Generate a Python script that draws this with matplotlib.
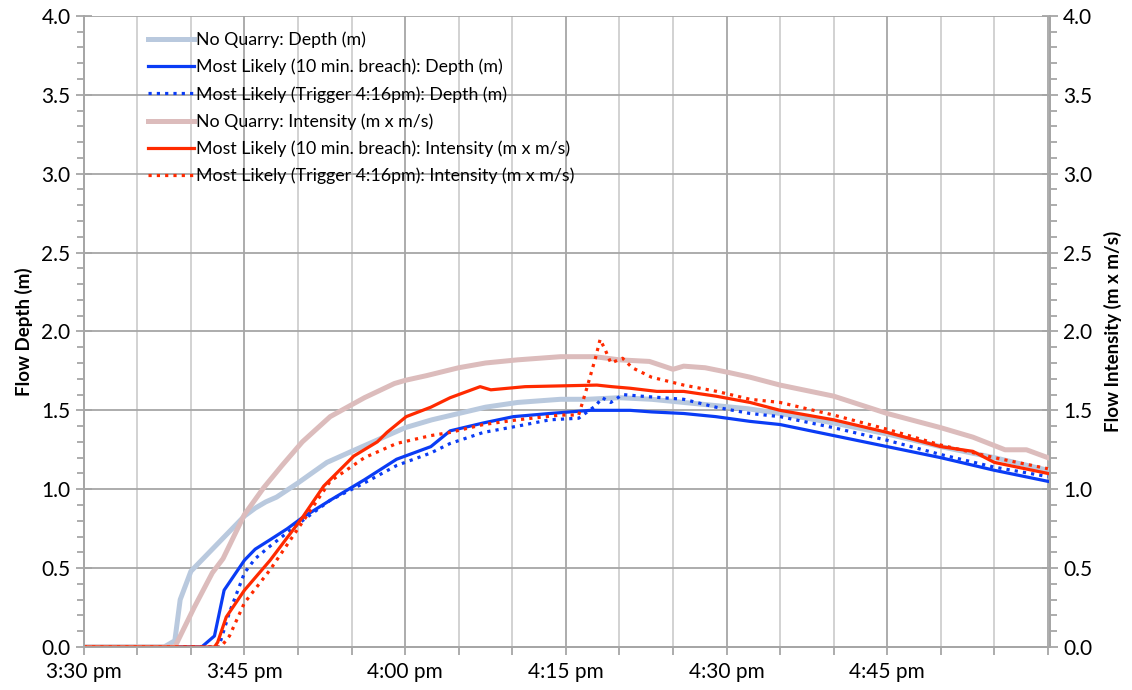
import matplotlib
matplotlib.use("Agg")
import matplotlib.pyplot as plt
from matplotlib.ticker import MultipleLocator, FormatStrFormatter

plt.rcParams['font.family'] = ['Lato', 'DejaVu Sans']

# minutes after 3:30 pm
tick_minutes = [0, 15, 30, 45, 60, 75]
tick_labels = ['3:30 pm', '3:45 pm', '4:00 pm', '4:15 pm', '4:30 pm', '4:45 pm']

# No Quarry: Depth (m)
nq_depth_t = [0, 7.5, 8.5, 9, 10, 11, 12, 13, 14, 15, 16, 17, 18, 20, 22.7, 25, 27, 30,
              32.5, 35, 37.5, 40.5, 44.5, 47, 50, 53, 56, 59, 62, 65, 70, 75, 80, 85, 90]
nq_depth = [0, 0, 0.04, 0.30, 0.48, 0.55, 0.62, 0.69, 0.76, 0.83, 0.88, 0.92, 0.95, 1.04, 1.17,
            1.24, 1.30, 1.39, 1.44, 1.48, 1.52, 1.55, 1.57, 1.57, 1.58, 1.57, 1.55, 1.53, 1.51,
            1.48, 1.42, 1.35, 1.27, 1.20, 1.12]

# Most Likely (10 min. breach): Depth (m)
ml_depth_t = [0, 11, 12.2, 13.1, 14.2, 15, 16, 17.4, 19, 20.4, 23, 26.2, 29.2, 32.4, 34.2,
              37.3, 40.1, 43.5, 47.3, 51, 53, 56, 59, 62.2, 65, 70, 75, 80, 85, 90]
ml_depth = [0, 0, 0.07, 0.36, 0.47, 0.55, 0.62, 0.68, 0.75, 0.82, 0.93, 1.06, 1.19, 1.27, 1.37,
            1.42, 1.46, 1.48, 1.50, 1.50, 1.49, 1.48, 1.46, 1.43, 1.41, 1.34, 1.27, 1.20, 1.12, 1.05]

# Most Likely (Trigger 4:16pm): Depth (m)
trig_depth_t = [0, 12.6, 13.6, 14.5, 15, 16, 17.4, 20.4, 23, 26.2, 29.2, 32.4, 34.2, 37.3, 40.5,
                43.5, 46.2, 47.8, 48.4, 49.2, 50.3, 52, 56, 59, 62.2, 65, 70, 75, 80, 85, 90]
trig_depth = [0, 0, 0.22, 0.38, 0.47, 0.56, 0.64, 0.80, 0.93, 1.04, 1.15, 1.23, 1.29, 1.36, 1.40,
              1.44, 1.45, 1.53, 1.58, 1.55, 1.60, 1.59, 1.57, 1.52, 1.48, 1.46, 1.39, 1.31, 1.22,
              1.14, 1.08]

# No Quarry: Intensity (m x m/s)
nq_int_t = [0, 8.5, 10.3, 12, 13, 15, 16.8, 18.5, 20.4, 23, 26.2, 29, 30, 32, 35, 37.5, 40.5,
            44.5, 47.7, 50, 52.8, 55, 56, 58, 60.2, 62.2, 65, 70, 75, 80, 83, 86, 88, 90]
nq_int = [0, 0, 0.25, 0.47, 0.56, 0.84, 1.01, 1.15, 1.30, 1.46, 1.58, 1.67, 1.69, 1.72, 1.77,
          1.80, 1.82, 1.84, 1.84, 1.82, 1.81, 1.76, 1.78, 1.77, 1.74, 1.71, 1.66, 1.59, 1.48,
          1.39, 1.33, 1.25, 1.25, 1.20]

# Most Likely (10 min. breach): Intensity (m x m/s)
ml_int_t = [0, 12.2, 12.5, 13.3, 14.2, 15, 17.4, 20.4, 22.4, 25.2, 27.4, 28.3, 30.1, 32.4, 34.2,
            37, 38, 41.2, 47.9, 49.3, 51, 53.5, 56, 59, 62.2, 65, 70, 75, 80, 83, 85, 90]
ml_int = [0, 0, 0.03, 0.19, 0.28, 0.36, 0.55, 0.82, 1.02, 1.21, 1.30, 1.36, 1.46, 1.52, 1.58,
          1.65, 1.63, 1.65, 1.66, 1.65, 1.64, 1.62, 1.62, 1.59, 1.55, 1.50, 1.44, 1.36, 1.27,
          1.24, 1.17, 1.10]

# Most Likely (Trigger 4:16pm): Intensity (m x m/s)
trig_int_t = [0, 12.8, 13.6, 15, 17.4, 20.4, 23, 26.2, 29.2, 32.4, 34.2, 37.3, 40.5, 44.5, 46.2,
              47, 47.8, 48.2, 48.7, 49.2, 50.3, 51.2, 53, 56, 59.1, 62.2, 65, 70, 75, 80, 85, 90]
trig_int = [0, 0, 0.07, 0.28, 0.49, 0.79, 1.05, 1.20, 1.29, 1.34, 1.36, 1.41, 1.44, 1.47, 1.47,
            1.65, 1.84, 1.95, 1.88, 1.80, 1.83, 1.77, 1.71, 1.66, 1.62, 1.57, 1.55, 1.47, 1.38,
            1.28, 1.20, 1.13]

fig = plt.figure(figsize=(11.32, 6.9), dpi=100)
ax = fig.add_axes([0.074, 0.0623, 0.8536, 0.9147])
ax2 = ax.twinx()

ax.set_xlim(0, 90.2)
ax.set_ylim(0, 4.0)
ax2.set_ylim(0, 4.0)

# grid: every 5 min light, every 15 min darker, every 0.5 m
for m in range(5, 91, 5):
    c = '#a6a6a6' if m % 15 == 0 else '#cfcfcf'
    ax.axvline(m, color=c, lw=1.3, zorder=0)
for v in [0.5, 1.0, 1.5, 2.0, 2.5, 3.0, 3.5, 4.0]:
    ax.axhline(v, color='#a6a6a6', lw=1.3, zorder=0)

l1, = ax.plot(nq_depth_t, nq_depth, color='#b9c9de', lw=3.6, label='No Quarry: Depth (m)')
l4, = ax2.plot(nq_int_t, nq_int, color='#dcbcbc', lw=3.6, label='No Quarry: Intensity (m x m/s)')
l2, = ax.plot(ml_depth_t, ml_depth, color='#0a3cf5', lw=2.3,
              label='Most Likely (10 min. breach): Depth (m)')
l3, = ax.plot(trig_depth_t, trig_depth, color='#0a3cf5', lw=2.3, ls=(0, (1, 1.6)),
              label='Most Likely (Trigger 4:16pm): Depth (m)')
l5, = ax2.plot(ml_int_t, ml_int, color='#ff2a00', lw=2.3,
               label='Most Likely (10 min. breach): Intensity (m x m/s)')
l6, = ax2.plot(trig_int_t, trig_int, color='#ff2a00', lw=2.3, ls=(0, (1, 1.6)),
               label='Most Likely (Trigger 4:16pm): Intensity (m x m/s)')

ax.set_xticks(tick_minutes)
ax.set_xticklabels(tick_labels)
ax.xaxis.set_minor_locator(MultipleLocator(5))
for a in (ax, ax2):
    a.yaxis.set_major_locator(MultipleLocator(0.5))
    a.yaxis.set_minor_locator(MultipleLocator(0.1))
    a.yaxis.set_major_formatter(FormatStrFormatter('%.1f'))
    for s in a.spines.values():
        s.set_color('#a6a6a6')
        s.set_linewidth(1.3)
    a.spines['top'].set_visible(False)
    a.tick_params(which='both', colors='#a6a6a6', labelcolor='black', labelsize=15, width=1.3)
    a.tick_params(which='minor', length=5)
    a.tick_params(axis='y', which='major', direction='inout', length=12)
ax.tick_params(axis='x', which='both', length=6, pad=5)

ax.set_ylabel('Flow Depth (m)', fontsize=13.5, fontweight='bold', labelpad=6)
ax2.set_ylabel('Flow Intensity (m x m/s)', fontsize=13.5, fontweight='bold', labelpad=8)

ax2.legend(handles=[l1, l2, l3, l4, l5, l6], loc='upper left', bbox_to_anchor=(0.05, 1.0),
           frameon=False, fontsize=12.8, handlelength=2.6, handletextpad=0.1,
           labelspacing=0.6, borderaxespad=0.48)

fig.savefig('out.png', dpi=100)
